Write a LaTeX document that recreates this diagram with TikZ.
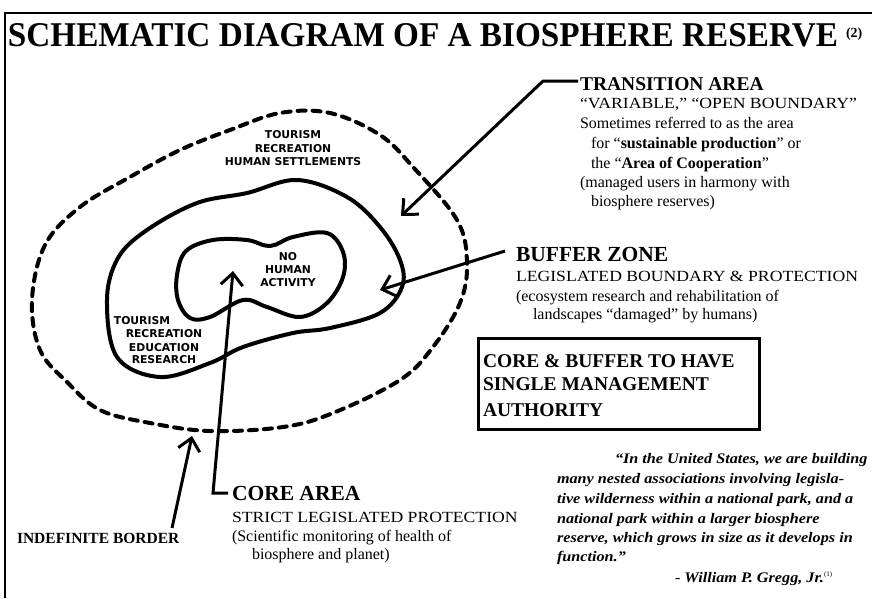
\documentclass[tikz,border=0pt]{standalone}
\usepackage{fontspec}
\usepackage{graphicx}
\setmainfont{Liberation Serif}
\newfontfamily\zonefont{DejaVu Sans}
\newfontfamily\widefont[FakeStretch=1.14]{Liberation Serif}
\newfontfamily\quotefont[FakeStretch=1.11]{Liberation Serif}
\usetikzlibrary{arrows.meta}
\tikzset{
  txt/.style={anchor=base west, inner sep=0pt, outer sep=0pt},
  zone/.style={anchor=base, inner sep=0pt, font=\zonefont\bfseries\fontsize{10.8}{11}\selectfont},
  headA/.style={font=\bfseries\fontsize{19.5}{20}\selectfont},
  headB/.style={font=\bfseries\fontsize{21.5}{22}\selectfont},
  body/.style={font=\fontsize{16}{18}\selectfont},
  capsline/.style={font=\widefont\fontsize{15.5}{18}\selectfont},
  quote/.style={font=\quotefont\bfseries\itshape\fontsize{14.6}{18}\selectfont},
  blob/.style={line width=4pt, line join=round},
  border/.style={line width=4pt, line cap=round, dash pattern=on 8pt off 7pt},
  pointer/.style={line width=3pt, -{Straight Barb[length=12pt,width=22pt,line width=3pt]}},
  frameline/.style={line width=2.5pt},
}
\begin{document}
\begin{tikzpicture}[x=1pt,y=-1pt]
\useasboundingbox (0,0) rectangle (872,598);
\fill[white] (0,0) rectangle (872,598);
% frame
\draw[frameline] (872,13) -- (5,13) -- (5,598);
% title
\node[txt] (title) at (8,46) {\resizebox{830pt}{23pt}{\bfseries SCHEMATIC DIAGRAM OF A BIOSPHERE RESERVE}};
\node[txt, font=\bfseries\fontsize{14}{14}\selectfont] (sup2) at (846,37) {(2)};

% outer dashed border
\draw[border] plot[smooth cycle, tension=0.6] coordinates {
 (80,207) (45,245) (32,300) (40,350) (67,382) (100,410) (150,423) (210,431)
 (283,427) (333,413) (400,380) (433,347) (460,303) (467,263) (457,220)
 (413,167) (380,135) (330,113) (280,113) (230,130) (180,150) (130,177)};
% buffer
\draw[blob] plot[smooth cycle, tension=0.6] coordinates {
 (107,300) (118,258) (147,230) (197,203) (247,193) (297,180) (347,197)
 (380,227) (400,260) (402,287) (380,313) (330,328) (293,333) (243,347)
 (210,363) (160,377) (117,357)};
% core
\draw[blob] plot[smooth cycle, tension=0.6] coordinates {
 (177,275) (186,251) (213,240) (247,240) (270,246) (293,237) (327,233)
 (343,252) (343,277) (327,303) (300,317) (267,307) (243,300) (210,317)
 (190,318) (178,300)};

% zone labels
\node[zone] (z1) at (293,138.5) {TOURISM};
\node[zone] (z2) at (293,152) {RECREATION};
\node[zone] (z3) at (293,165.5) {HUMAN SETTLEMENTS};
\node[zone] (n1) at (288,260.5) {NO};
\node[zone] (n2) at (288,273.5) {HUMAN};
\node[zone] (n3) at (288,286) {ACTIVITY};
\node[zone] (l1) at (142,324) {TOURISM};
\node[zone] (l2) at (164,337) {RECREATION};
\node[zone] (l3) at (164,351) {EDUCATION};
\node[zone] (l4) at (164,363) {RESEARCH};

% transition area
\node[txt, headA] (ta) at (580,90) {TRANSITION AREA};
\node[txt, capsline] (ta1) at (580,108) {“VARIABLE,” “OPEN BOUNDARY”};
\node[txt, body] (ta2) at (580,128) {Sometimes referred to as the area};
\node[txt, body] (ta3) at (591,148) {for “\textbf{sustainable production}” or};
\node[txt, body] (ta4) at (591,168) {the “\textbf{Area of Cooperation}”};
\node[txt, body] (ta5) at (580,187) {(managed users in harmony with};
\node[txt, body] (ta6) at (591,206) {biosphere reserves)};
\coordinate (taS) at (578,81);
\coordinate (taK) at (543,81);
\coordinate (taT) at (401,216);
\draw[pointer] (taS) -- (taK) -- (taT);

% buffer zone
\node[txt, headB] (bz) at (516,261) {BUFFER ZONE};
\node[txt, capsline] (bz1) at (516,281) {LEGISLATED BOUNDARY \& PROTECTION};
\node[txt, body] (bz2) at (516,301) {(ecosystem research and rehabilitation of};
\node[txt, body] (bz3) at (533,319) {landscapes “damaged” by humans)};
\coordinate (bzS) at (505,251);
\coordinate (bzT) at (380,290);
\draw[pointer] (bzS) -- (bzT);

% box
\node[draw, line width=2.5pt, minimum width=281pt, minimum height=91pt, anchor=north west, inner sep=0pt] (box) at (477,337) {};
\node[txt, headA] (bx1) at (483,367) {CORE \& BUFFER TO HAVE};
\node[txt, headA] (bx2) at (483,390) {SINGLE MANAGEMENT};
\node[txt, headA] (bx3) at (483,416) {AUTHORITY};

% core area
\node[txt, headB] (ca) at (232,500) {CORE AREA};
\node[txt, capsline] (ca1) at (232,522) {STRICT LEGISLATED PROTECTION};
\node[txt, body] (ca2) at (232,541) {(Scientific monitoring of health of};
\node[txt, body] (ca3) at (252,559) {biosphere and planet)};
\coordinate (caS) at (228,493);
\coordinate (caK) at (213,493);
\coordinate (caT) at (233,271);
\draw[pointer] (caS) -- (caK) -- (caT);

% indefinite border
\node[txt, font=\bfseries\fontsize{15.5}{16}\selectfont] (ib) at (17,543) {INDEFINITE BORDER};
\coordinate (ibS) at (172,528);
\coordinate (ibT) at (192,436);
\draw[pointer] (ibS) -- (ibT);

% quote
\node[txt, quote] (q1) at (615,463) {“In the United States, we are building};
\node[txt, quote] (q2) at (557,483) {many nested associations involving legisla-};
\node[txt, quote] (q3) at (557,503) {tive wilderness within a national park, and a};
\node[txt, quote] (q4) at (557,523) {national park within a larger biosphere};
\node[txt, quote] (q5) at (557,542) {reserve, which grows in size as it develops in};
\node[txt, quote] (q6) at (557,561) {function.”};
\node[txt, quote] (q7) at (675,582) {- William P. Gregg, Jr.\textsuperscript{\normalfont\upshape\fontsize{7}{7}\selectfont (1)}};
\end{tikzpicture}
\end{document}
